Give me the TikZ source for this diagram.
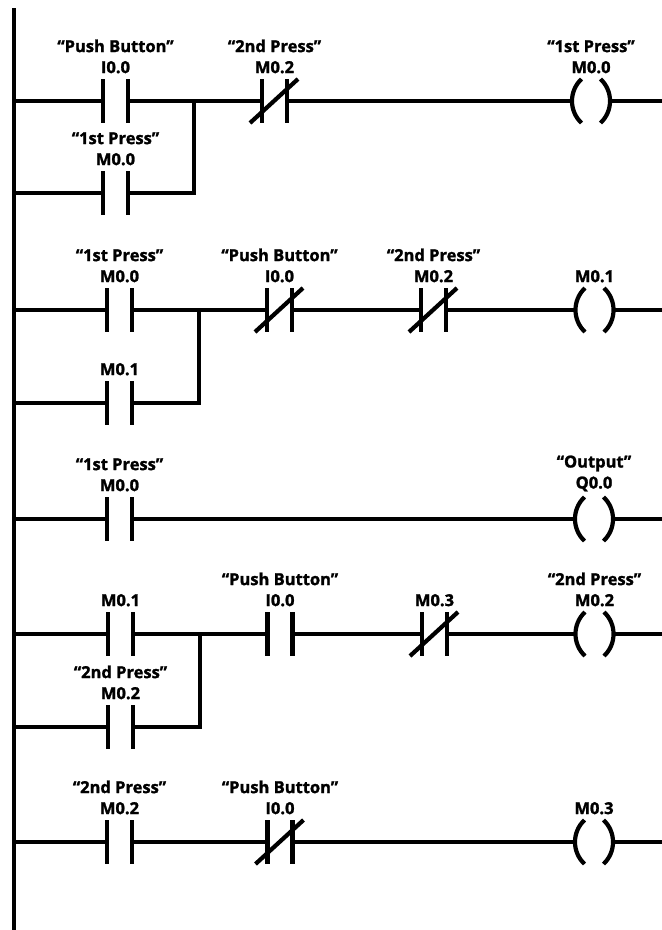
\documentclass[tikz,border=0pt]{standalone}
\usepackage{fontspec}
\newfontfamily\ladderfont{Open Sans}[BoldFeatures={FakeBold=1.5}]
\tikzset{
  wire/.style={line width=4.2bp},
  no/.style={minimum width=25bp,minimum height=44bp,inner sep=0pt,outer sep=0pt},
  nc/.style={no},
  coil/.style={minimum width=38bp,minimum height=44bp,inner sep=0pt,outer sep=0pt},
  tag/.style={anchor=south,inner sep=0pt,align=center,
    font=\ladderfont\bfseries\fontsize{16.5bp}{21bp}\selectfont}
}
\begin{document}
\begin{tikzpicture}[x=1bp,y=-1bp]
	\useasboundingbox (0,0) rectangle (662,930);
	% power rail
	\coordinate (top) at (14,8);
	\coordinate (bot) at (14,930);
	\draw[wire] (top) -- (bot);
	% rung 1
	\coordinate (r1) at (14,101);
	\coordinate (r1b) at (14,193);
	\coordinate (j1) at (194,101);
	\coordinate (e1) at (662,101);
	\node[no] (c11) at (115.5,101) {};
	\node[no] (c12) at (115.5,193) {};
	\node[nc] (c13) at (274.5,101) {};
	\node[coil] (k1) at (591,101) {};
	\draw[wire] (r1) -- (c11.west) (c11.east) -- (j1) -- (c13.west) (c13.east) -- (k1.west) (k1.east) -- (e1);
	\draw[wire] (r1b) -- (c12.west) (c12.east) -| (j1);
	% rung 2
	\coordinate (r2) at (14,310);
	\coordinate (r2b) at (14,403);
	\coordinate (j2) at (199,310);
	\coordinate (e2) at (662,310);
	\node[no] (c21) at (119.5,310) {};
	\node[no] (c22) at (119.5,403) {};
	\node[nc] (c23) at (279.5,310) {};
	\node[nc] (c24) at (433.5,310) {};
	\node[coil] (k2) at (594.5,310) {};
	\draw[wire] (r2) -- (c21.west) (c21.east) -- (j2) -- (c23.west) (c23.east) -- (c24.west) (c24.east) -- (k2.west) (k2.east) -- (e2);
	\draw[wire] (r2b) -- (c22.west) (c22.east) -| (j2);
	% rung 3
	\coordinate (r3) at (14,519);
	\coordinate (e3) at (662,519);
	\node[no] (c31) at (119.5,519) {};
	\node[coil] (k3) at (594,519) {};
	\draw[wire] (r3) -- (c31.west) (c31.east) -- (k3.west) (k3.east) -- (e3);
	% rung 4
	\coordinate (r4) at (14,634);
	\coordinate (r4b) at (14,727);
	\coordinate (j4) at (200,634);
	\coordinate (e4) at (662,634);
	\node[no] (c41) at (120.5,634) {};
	\node[no] (c42) at (120.5,727) {};
	\node[no] (c43) at (280,634) {};
	\node[nc] (c44) at (434.5,634) {};
	\node[coil] (k4) at (594.5,634) {};
	\draw[wire] (r4) -- (c41.west) (c41.east) -- (j4) -- (c43.west) (c43.east) -- (c44.west) (c44.east) -- (k4.west) (k4.east) -- (e4);
	\draw[wire] (r4b) -- (c42.west) (c42.east) -| (j4);
	% rung 5
	\coordinate (r5) at (14,842);
	\coordinate (e5) at (662,842);
	\node[no] (c51) at (119.5,842) {};
	\node[nc] (c52) at (280,842) {};
	\node[coil] (k5) at (594,842) {};
	\draw[wire] (r5) -- (c51.west) (c51.east) -- (c52.west) (c52.east) -- (k5.west) (k5.east) -- (e5);
	% contact plates
	\foreach \c in {c11,c12,c13,c21,c22,c23,c24,c31,c41,c42,c43,c44,c51,c52}
		\draw[wire] (\c.north west) -- (\c.south west) (\c.north east) -- (\c.south east);
	% normally closed slashes
	\foreach \c in {c13,c23,c24,c44,c52}
		\draw[wire] ([xshift=-12bp]\c.south west) -- ([xshift=11bp]\c.north east);
	% coils
	\foreach \k in {k1,k2,k3,k4,k5}
		\draw[wire] ([xshift=9.5bp]\k.north west) .. controls ([xshift=-3.2bp,yshift=-12bp]\k.north west) and ([xshift=-3.2bp,yshift=12bp]\k.south west) .. ([xshift=9.5bp]\k.south west)
			([xshift=-9.5bp]\k.north east) .. controls ([xshift=3.2bp,yshift=-12bp]\k.north east) and ([xshift=3.2bp,yshift=12bp]\k.south east) .. ([xshift=-9.5bp]\k.south east);
	% tags
	\foreach \c/\t in {c11/{“Push Button”\\I0.0},c12/{“1st Press”\\M0.0},c13/{“2nd Press”\\M0.2},k1/{“1st Press”\\M0.0},
		c21/{“1st Press”\\M0.0},c22/{M0.1},c23/{“Push Button”\\I0.0},c24/{“2nd Press”\\M0.2},k2/{M0.1},
		c31/{“1st Press”\\M0.0},k3/{“Output”\\Q0.0},
		c41/{M0.1},c42/{“2nd Press”\\M0.2},c43/{“Push Button”\\I0.0},c44/{M0.3},k4/{“2nd Press”\\M0.2},
		c51/{“2nd Press”\\M0.2},c52/{“Push Button”\\I0.0},k5/{M0.3}}
		\node[tag] (\c-t) at ([yshift=5.5bp]\c.north) {\t};
\end{tikzpicture}
\end{document}
